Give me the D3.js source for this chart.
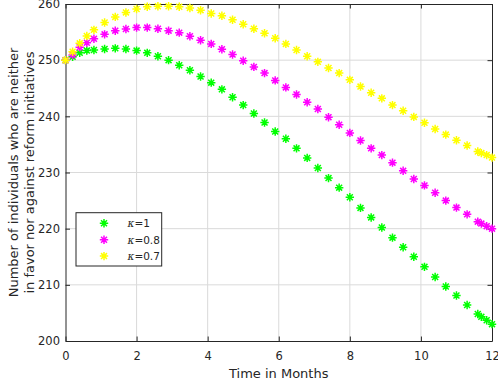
<!DOCTYPE html>
<html>
<head>
<meta charset="utf-8">
<script src="https://cdn.jsdelivr.net/npm/d3@7"></script>
<style>
  body { margin: 0; background: #fff; }
  svg { display: block; font-family: "DejaVu Sans", sans-serif; }
</style>
</head>
<body>
<div id="chart"></div>
<script>
// time points (months) returned by the solver
const months = [0, 0.2, 0.4, 0.6, 0.8, 1.1, 1.4, 1.7, 2.0, 2.3, 2.6, 2.9, 3.2, 3.5, 3.8,
  4.1, 4.4, 4.7, 5.0, 5.3, 5.6, 5.9, 6.2, 6.5, 6.8, 7.1, 7.4, 7.7, 8.0, 8.3, 8.6, 8.9,
  9.2, 9.5, 9.8, 10.1, 10.4, 10.7, 11.0, 11.3, 11.6, 11.7, 11.85, 12.0];

// kappa = 1
const kappa1 = [250.0, 250.6, 251.3, 251.7, 251.8, 252.0, 252.1, 252.0, 251.7, 251.3, 250.7,
  250.0, 249.1, 248.2, 247.1, 246.0, 244.8, 243.4, 242.0, 240.5, 238.9, 237.3, 236.0,
  234.3, 232.6, 230.8, 229.0, 227.3, 225.6, 223.7, 222.0, 220.2, 218.4, 216.7, 215.0,
  213.2, 211.4, 209.7, 208.1, 206.4, 204.8, 204.3, 203.7, 203.0];

// kappa = 0.8
const kappa08 = [250.0, 250.9, 252.3, 253.1, 253.8, 254.6, 255.25, 255.55, 255.8, 255.8, 255.6,
  255.25, 254.9, 254.25, 253.55, 252.9, 251.95, 251.0, 249.9, 248.8, 247.7, 246.4, 245.15,
  243.9, 242.5, 241.3, 239.85, 238.5, 237.05, 235.7, 234.3, 233.1, 231.75, 230.3, 228.85,
  227.7, 226.4, 225.0, 223.75, 222.55, 221.25, 220.9, 220.45, 220.0];

// kappa = 0.7
const kappa07 = [250.0, 251.5, 253.0, 254.3, 255.4, 256.7, 257.7, 258.5, 259.1, 259.5, 259.6,
  259.6, 259.5, 259.3, 258.9, 258.3, 257.9, 257.2, 256.4, 255.6, 254.8, 253.9, 252.9,
  251.8, 250.7, 249.7, 248.6, 247.7, 246.5, 245.3, 244.2, 243.2, 242.0, 241.0, 239.9,
  238.85, 237.75, 236.75, 235.75, 234.8, 233.75, 233.45, 233.1, 232.65];

const seriesNames = ["=1", "=0.8", "=0.7"];
const seriesColors = ["#00ff00", "#ff00ff", "#ffff00"];
const xTicks = [0, 2, 4, 6, 8, 10, 12];
const yTicks = [200, 210, 220, 230, 240, 250, 260];

const width = 498, height = 380;
const plot = { left: 65.5, right: 492, top: 4, bottom: 341 };
const axisColor = "#262626";
const tickFont = "11.5px";
const labelFont = "13px";

const svg = d3.select("#chart").append("svg")
  .attr("width", width)
  .attr("height", height);

const x = d3.scaleLinear().domain([0, 12]).range([plot.left, plot.right]);
const y = d3.scaleLinear().domain([200, 260]).range([plot.bottom, plot.top]);

// grid
const grid = svg.append("g");
grid.selectAll(".gx")
  .data(xTicks.slice(1, -1))
  .join("line")
  .attr("x1", d => x(d)).attr("x2", d => x(d))
  .attr("y1", plot.top).attr("y2", plot.bottom)
  .attr("stroke", "#dadada").attr("stroke-width", 1);
grid.selectAll(".gy")
  .data(yTicks.slice(1, -1))
  .join("line")
  .attr("x1", plot.left).attr("x2", plot.right)
  .attr("y1", d => y(d)).attr("y2", d => y(d))
  .attr("stroke", "#dadada").attr("stroke-width", 1);

// axes: ticks point inward, box on all sides
const tickLen = 4.5;
const axisFont = g => g.selectAll("text")
  .style("font-family", "'DejaVu Sans', sans-serif")
  .style("font-size", tickFont)
  .attr("fill", axisColor);

svg.append("g")
  .attr("transform", `translate(0,${plot.bottom})`)
  .call(d3.axisBottom(x).tickValues(xTicks).tickSizeInner(-tickLen).tickSizeOuter(0).tickPadding(10.5))
  .call(g => g.select(".domain").attr("stroke", axisColor))
  .call(g => g.selectAll("line").attr("stroke", axisColor))
  .call(axisFont);

svg.append("g")
  .attr("transform", `translate(0,${plot.top})`)
  .call(d3.axisTop(x).tickValues(xTicks).tickSizeInner(-tickLen).tickSizeOuter(0).tickFormat(""))
  .call(g => g.select(".domain").attr("stroke", axisColor))
  .call(g => g.selectAll("line").attr("stroke", axisColor));

svg.append("g")
  .attr("transform", `translate(${plot.left},0)`)
  .call(d3.axisLeft(y).tickValues(yTicks).tickSizeInner(-tickLen).tickSizeOuter(0).tickPadding(5.5))
  .call(g => g.select(".domain").attr("stroke", axisColor))
  .call(g => g.selectAll("line").attr("stroke", axisColor))
  .call(axisFont);

svg.append("g")
  .attr("transform", `translate(${plot.right},0)`)
  .call(d3.axisRight(y).tickValues(yTicks).tickSizeInner(-tickLen).tickSizeOuter(0).tickFormat(""))
  .call(g => g.select(".domain").attr("stroke", axisColor))
  .call(g => g.selectAll("line").attr("stroke", axisColor));

// axis titles
svg.append("text")
  .attr("x", (plot.left + plot.right) / 2)
  .attr("y", 378)
  .attr("text-anchor", "middle")
  .style("font-size", labelFont)
  .attr("fill", axisColor)
  .text("Time in Months");

const yLabel = svg.append("text")
  .attr("transform", `translate(0,${(plot.top + plot.bottom) / 2}) rotate(-90)`)
  .attr("text-anchor", "middle")
  .style("font-size", labelFont)
  .attr("fill", axisColor);
yLabel.append("tspan").attr("x", 0).attr("y", 17.5).text("Number of individuals who are neither");
yLabel.append("tspan").attr("x", 0).attr("y", 33.5).text("in favor nor against reform initiatives");

// asterisk marker, like MATLAB's '*'
const r = 4.2, dd = r * Math.SQRT1_2;
const star = `M${-r},0L${r},0M0,${-r}L0,${r}M${-dd},${-dd}L${dd},${dd}M${-dd},${dd}L${dd},${-dd}`;

const allSeries = [kappa1, kappa08, kappa07];
allSeries.forEach((vals, i) => {
  svg.append("g").selectAll("path")
    .data(vals)
    .join("path")
    .attr("d", star)
    .attr("transform", (d, j) => `translate(${x(months[j])},${y(d)})`)
    .attr("fill", "none")
    .attr("stroke", seriesColors[i])
    .attr("stroke-width", 1.5);
});

// legend
const legend = svg.append("g").attr("transform", "translate(76,212.7)");
legend.append("rect")
  .attr("width", 85.7).attr("height", 53.3)
  .attr("fill", "#fff")
  .attr("stroke", axisColor)
  .attr("stroke-width", 1);

seriesNames.forEach((name, i) => {
  const ly = 10.6 + i * 16.4;
  legend.append("path")
    .attr("d", star)
    .attr("transform", `translate(28,${ly})`)
    .attr("fill", "none")
    .attr("stroke", seriesColors[i])
    .attr("stroke-width", 1.5);
  const t = legend.append("text")
    .attr("x", 51.5).attr("y", ly + 4)
    .style("font-size", "10.5px")
    .attr("fill", axisColor);
  t.append("tspan").style("font-style", "italic").style("font-family", "'DejaVu Serif', serif").text("\u03ba");
  t.append("tspan").text(name);
});
</script>
</body>
</html>
